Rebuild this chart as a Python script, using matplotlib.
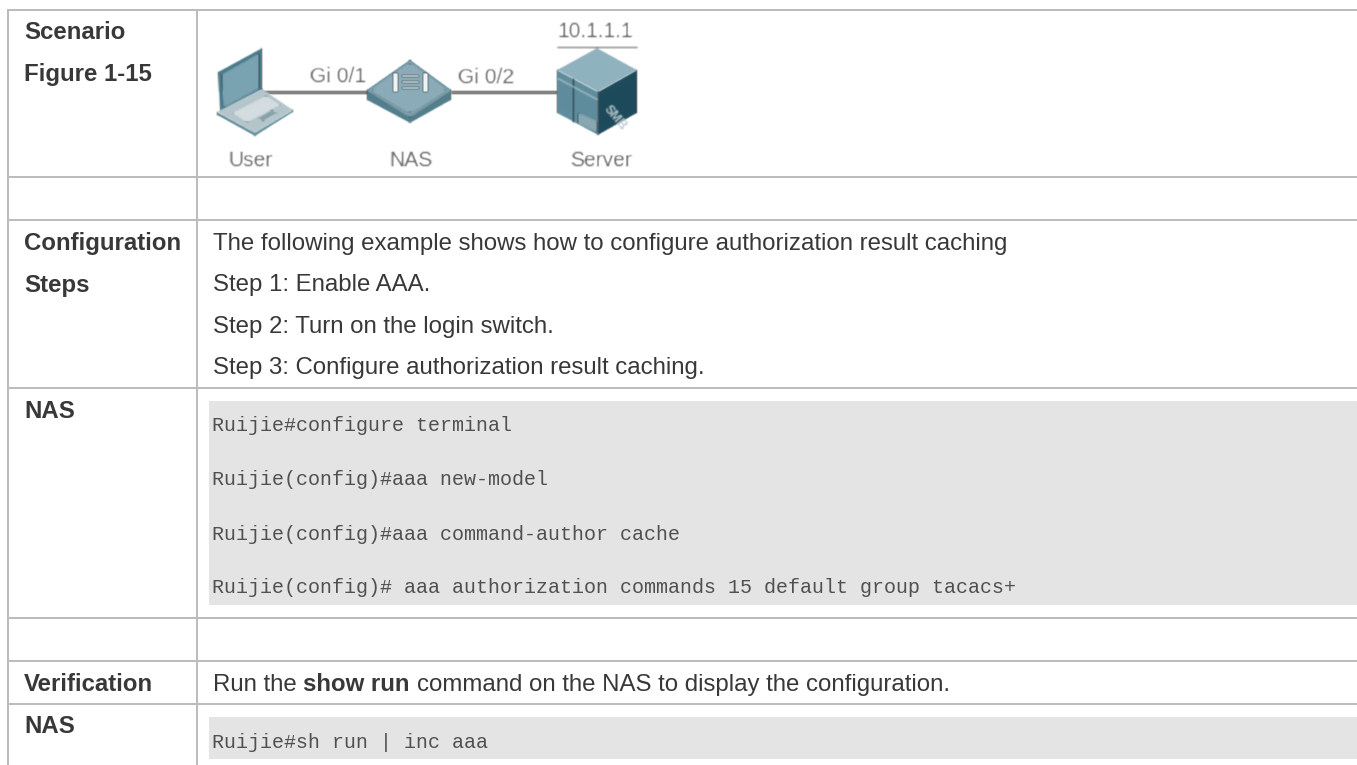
import numpy as np
import matplotlib
matplotlib.use("Agg")
import matplotlib.pyplot as plt
from matplotlib.patches import Polygon

# --- content ---
row_labels = [["Scenario", "Figure 1-15"], ["Configuration", "Steps"], ["NAS"], ["Verification"], ["NAS"]]
step_lines = ["The following example shows how to configure authorization result caching",
              "Step 1: Enable AAA.",
              "Step 2: Turn on the login switch.",
              "Step 3: Configure authorization result caching."]
cli_block_1 = ["Ruijie#configure terminal",
               "Ruijie(config)#aaa new-model",
               "Ruijie(config)#aaa command-author cache",
               "Ruijie(config)# aaa authorization commands 15 default group tacacs+"]
cli_block_2 = ["Ruijie#sh run | inc aaa"]
verify_parts = [("Run the", False), ("show run", True), ("command on the NAS to display the configuration.", False)]
device_labels = ["User", "NAS", "Server"]
port_labels = ["Gi 0/1", "Gi 0/2"]
server_ip = "10.1.1.1"

W, H = 1357, 765
LINE = "#bcbcbc"
TXT = "#383838"
PX = 72 / 100  # points per pixel at dpi 100
SANS = "Liberation Sans"
MONO = "Liberation Mono"
BODY = 24.0

fig = plt.figure(figsize=(W / 100, H / 100), dpi=100, facecolor="white")
ax = fig.add_axes([0, 0, 1, 1])
ax.set_xlim(0, W)
ax.set_ylim(H, 0)
ax.axis("off")


def blur(radius):
    k = np.exp(-0.5 * (np.arange(-4, 5) / radius) ** 2)
    k /= k.sum()

    def f(img, dpi):
        pad = 6
        out = np.pad(img, ((pad, pad), (pad, pad), (0, 0)))
        for c in range(out.shape[2]):
            out[:, :, c] = np.apply_along_axis(lambda m: np.convolve(m, k, "same"), 0, out[:, :, c])
            out[:, :, c] = np.apply_along_axis(lambda m: np.convolve(m, k, "same"), 1, out[:, :, c])
        return out, -pad, -pad
    return f


# grey code panels
for y0, y1 in [(401, 605), (717, 759)]:
    ax.fill_between([209, W], y0, y1, color="#e4e4e4", lw=0, zorder=1)

# table rules
for y in [10, 177, 220, 388, 618, 661, 704]:
    ax.plot([7, W], [y, y], color=LINE, lw=2 * PX, solid_capstyle="butt", zorder=2)
for x in [8, 197]:
    ax.plot([x, x], [9, H], color=LINE, lw=2 * PX, solid_capstyle="butt", zorder=2)

# left column
label_baselines = [[39, 81], [250, 292], [418], [691], [733]]
for labels, ys in zip(row_labels, label_baselines):
    for s, y in zip(labels, ys):
        ax.text(24, y, s, family=SANS, weight="bold", fontsize=BODY * PX, color=TXT, va="baseline", zorder=5)

# steps
for s, y in zip(step_lines, [250, 291, 333, 374]):
    ax.text(213, y, s, family=SANS, fontsize=BODY * PX, color=TXT, va="baseline", zorder=5)

# CLI
for s, y in zip(cli_block_1, [431, 485, 540, 593]):
    ax.text(212, y, s, family=MONO, fontsize=20 * PX, color="#505050", va="baseline", zorder=5)
for s, y in zip(cli_block_2, [748]):
    ax.text(212, y, s, family=MONO, fontsize=20 * PX, color="#505050", va="baseline", zorder=5)

# verification sentence with bold part
fig.canvas.draw()
rend = fig.canvas.get_renderer()
x = 213
space = 0.278 * BODY
for s, bold in verify_parts:
    t = ax.text(x, 691, s, family=SANS, weight="bold" if bold else "normal", fontsize=BODY * PX,
                color=TXT, va="baseline", zorder=5)
    x += t.get_window_extent(rend).width + space

# --- topology diagram ---
F = blur(0.7)
icon = []


def poly(pts, fc, z=4):
    p = Polygon(pts, closed=True, fc=fc, ec="none", zorder=z)
    ax.add_patch(p)
    icon.append(p)


def seg(pts, color, lw_px, z=4):
    xs, ys = zip(*pts)
    l, = ax.plot(xs, ys, color=color, lw=lw_px * PX, solid_capstyle="butt", zorder=z)
    icon.append(l)


seg([(262, 92), (368, 92)], "#808080", 3, 3)
seg([(451, 92), (557, 92)], "#808080", 3, 3)
seg([(557, 47), (637, 47)], "#d4d4d4", 1, 3)

# laptop
poly([(218, 72), (262, 48), (262, 90), (220, 112)], "#4a7a8b")
poly([(222, 75), (259, 54), (259, 88), (224, 107)], "#7ba3b1")
poly([(217, 112), (262, 89), (293, 110), (255, 134)], "#b4c5cb")
poly([(217, 112), (255, 133), (293, 110), (293, 112), (255, 136), (217, 115)], "#5c8999")
poly([(233, 113), (266, 96), (280, 105), (247, 122)], "#d4dde0")
poly([(258, 118), (272, 110), (277, 113), (263, 121)], "#8aa2ab")

# switch
poly([(367, 90), (410, 60), (451, 90), (451, 100), (410, 123), (367, 100)], "#527d8c")
poly([(367, 90), (410, 60), (451, 90), (410, 117)], "#7d9fac")
poly([(373, 90), (410, 64), (445, 90), (410, 112)], "#8bacb8")
poly([(393, 73), (398, 73), (398, 92), (393, 92)], "#f4f6f7")
poly([(423, 73), (428, 73), (428, 92), (423, 92)], "#f4f6f7")
for yy in [75, 81, 87]:
    poly([(402, yy), (419, yy), (419, yy + 2), (402, yy + 2)], "#e6ecee")

# server
poly([(557, 70), (597, 48), (637, 70), (598, 92)], "#8fb2be")
poly([(557, 70), (598, 92), (598, 135), (557, 113)], "#5f8d9d")
poly([(598, 92), (637, 70), (637, 113), (598, 135)], "#1d4a5a")
poly([(578, 113), (597, 122), (597, 132), (578, 123)], "#8ba7b1")
seg([(573, 78), (573, 122)], "#3f6d7d", 1)
seg([(557, 78), (598, 100)], "#a8c3cc", 1)
icon.append(ax.text(615, 118, "SMB", family=SANS, weight="bold", fontsize=9, color="#b8c8ce", rotation=-50,
                    ha="center", va="center", zorder=5))

for s, cx in zip(device_labels, [251, 411, 601]):
    icon.append(ax.text(cx, 166, s, family=SANS, fontsize=21 * PX, color="#666666", ha="center", va="baseline", zorder=5))
for s, x0, y in zip(port_labels, [310, 458], [82, 83]):
    icon.append(ax.text(x0, y, s, family=SANS, fontsize=21 * PX, color="#666666", va="baseline", zorder=5))
icon.append(ax.text(557, 37, server_ip, family=SANS, fontsize=21 * PX, color="#666666", va="baseline", zorder=5))

for a in icon:
    a.set_agg_filter(F)

fig.savefig("out.png", dpi=100, facecolor="white")
